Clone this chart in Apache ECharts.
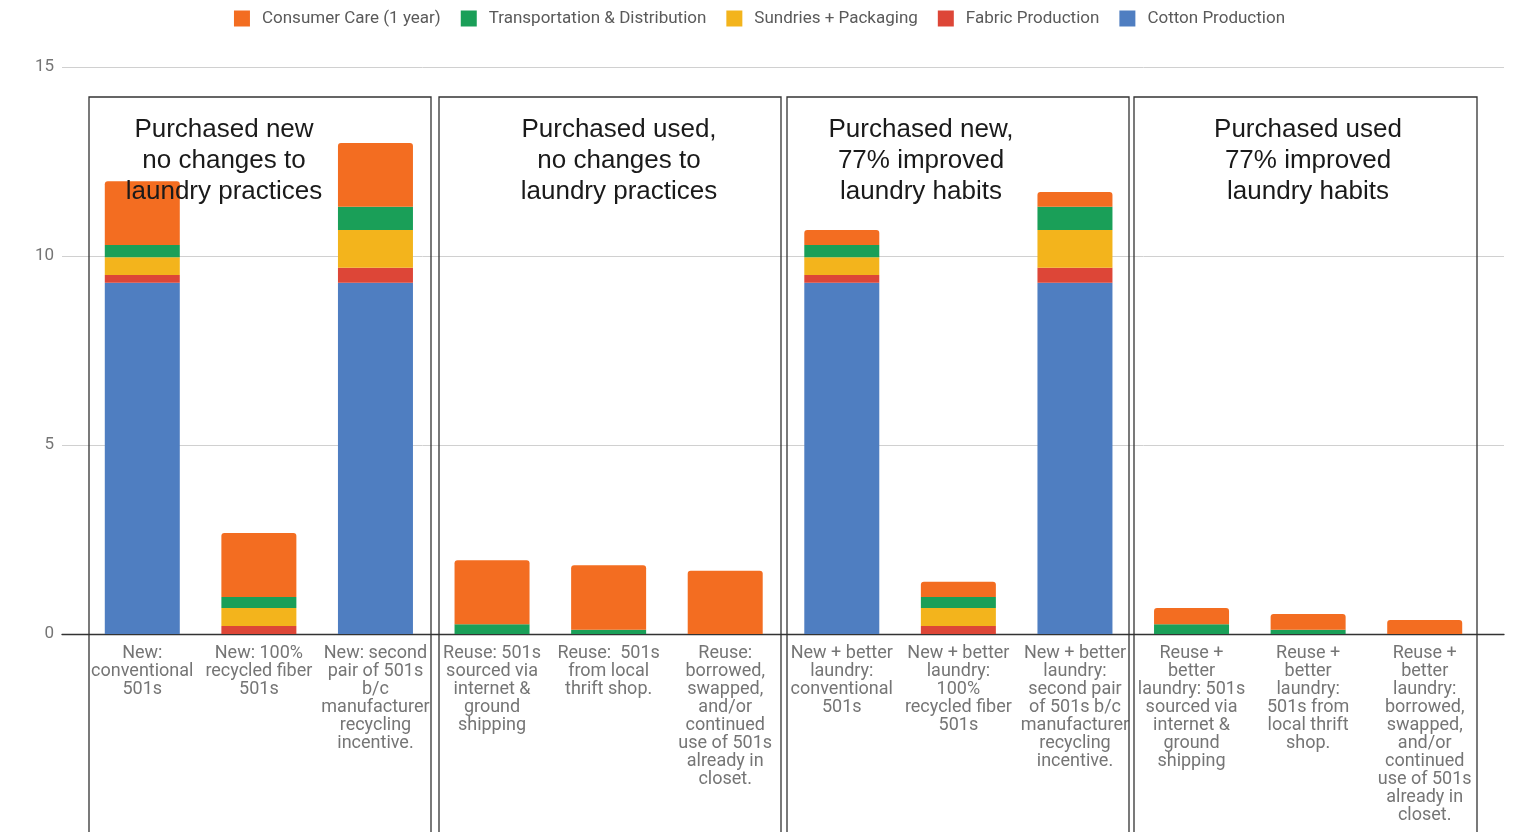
<!DOCTYPE html>
<html>
<head>
<meta charset="utf-8">
<script src="https://cdn.jsdelivr.net/npm/echarts@6/dist/echarts.min.js"></script>
<style>
html,body{margin:0;padding:0;background:#fff;}
#chart{width:1519px;height:832px;}
</style>
</head>
<body>
<div id="chart"></div>
<script>
const categories = [
  "New:\nconventional\n501s",
  "New: 100%\nrecycled fiber\n501s",
  "New: second\npair of 501s\nb/c\nmanufacturer\nrecycling\nincentive.",
  "Reuse: 501s\nsourced via\ninternet &\nground\nshipping",
  "Reuse:  501s\nfrom local\nthrift shop.",
  "Reuse:\nborrowed,\nswapped,\nand/or\ncontinued\nuse of 501s\nalready in\ncloset.",
  "New + better\nlaundry:\nconventional\n501s",
  "New + better\nlaundry:\n100%\nrecycled fiber\n501s",
  "New + better\nlaundry:\nsecond pair\nof 501s b/c\nmanufacturer\nrecycling\nincentive.",
  "Reuse +\nbetter\nlaundry: 501s\nsourced via\ninternet &\nground\nshipping",
  "Reuse +\nbetter\nlaundry:\n501s from\nlocal thrift\nshop.",
  "Reuse +\nbetter\nlaundry:\nborrowed,\nswapped,\nand/or\ncontinued\nuse of 501s\nalready in\ncloset."
];
const cottonProduction   = [9.29, 0,    9.29, 0,    0,    0,    9.29, 0,    9.29, 0,    0,    0];
const fabricProduction   = [0.21, 0.21, 0.40, 0,    0,    0,    0.21, 0.21, 0.40, 0,    0,    0];
const sundriesPackaging  = [0.47, 0.48, 1.00, 0,    0,    0,    0.47, 0.48, 1.00, 0,    0,    0];
const transportation     = [0.32, 0.29, 0.61, 0.26, 0.11, 0,    0.32, 0.29, 0.61, 0.26, 0.11, 0];
const consumerCare       = [1.69, 1.69, 1.69, 1.69, 1.71, 1.67, 0.40, 0.40, 0.39, 0.43, 0.42, 0.37];
const yTicks = [0, 5, 10, 15];
const groupTitles = [
  "Purchased new\nno changes to\nlaundry practices",
  "Purchased used,\nno changes to\nlaundry practices",
  "Purchased new,\n77% improved\nlaundry habits",
  "Purchased used\n77% improved\nlaundry habits"
];

const colors = {
  consumer: '#f36d21',
  transport: '#1a9f58',
  sundries: '#f3b41c',
  fabric: '#dd4637',
  cotton: '#4f7ec1'
};

const chart = echarts.init(document.getElementById('chart'));
const font = 'Roboto, "Noto Sans", sans-serif';

function bar(name, data, color, top) {
  return {
    name: name, type: 'bar', stack: 'total', data: data,
    xAxisIndex: 0, yAxisIndex: 0,
    barWidth: 75,
    itemStyle: { color: color, borderRadius: top ? [3,3,0,0] : 0 },
    emphasis: { disabled: true }
  };
}

const boxes = [[89, 431, 224], [439, 781, 619], [787, 1129, 921], [1134, 1477, 1308]];
const graphics = [];
boxes.forEach((b, i) => {
  graphics.push({
    type: 'rect', z: 10, silent: true,
    shape: { x: b[0], y: 97, width: b[1] - b[0], height: 760 },
    style: { fill: 'none', stroke: '#333', lineWidth: 1.3 }
  });
  graphics.push({
    type: 'text', z: 11, silent: true,
    x: b[2], y: 114,
    style: {
      text: groupTitles[i], fill: '#1a1a1a',
      fontFamily: 'Liberation Sans', fontSize: 26,
      align: 'center', verticalAlign: 'top', lineHeight: 31
    }
  });
});

chart.setOption({
  animation: false,
  color: [colors.cotton, colors.fabric, colors.sundries, colors.transport, colors.consumer],
  legend: {
    top: 5, left: 'center',
    data: ['Consumer Care (1 year)', 'Transportation & Distribution', 'Sundries + Packaging', 'Fabric Production', 'Cotton Production'],
    icon: 'rect', itemWidth: 16, itemHeight: 16, itemGap: 20,
    textStyle: { fontFamily: font, fontSize: 17, color: '#5a5a5a', padding: [0, 0, 0, 7] }
  },
  grid: [
    { left: 84, right: 36, top: 67, bottom: 198 },
    { left: 62, right: 15, top: 67, bottom: 198 }
  ],
  xAxis: [
    {
      type: 'category', gridIndex: 0, data: categories,
      axisLine: { show: false }, axisTick: { show: false },
      axisLabel: { interval: 0, margin: 10, fontFamily: font, fontSize: 18, lineHeight: 18, color: '#757575', align: 'center' }
    },
    {
      type: 'value', gridIndex: 1, min: 0, max: 1,
      axisLine: { show: true, onZero: false, lineStyle: { color: '#333', width: 1.3 } },
      axisTick: { show: false }, axisLabel: { show: false }, splitLine: { show: false }
    }
  ],
  yAxis: [
    { type: 'value', gridIndex: 0, min: 0, max: 15, show: false },
    {
      type: 'value', gridIndex: 1, min: 0, max: 15, interval: 5,
      axisLine: { show: false }, axisTick: { show: false },
      axisLabel: { margin: 8, fontFamily: font, fontSize: 17, color: '#757575',
        formatter: v => yTicks.includes(v) ? String(v) : '' },
      splitLine: { lineStyle: { color: '#d0d0d0', width: 1 } }
    }
  ],
  series: [
    bar('Cotton Production', cottonProduction, colors.cotton, false),
    bar('Fabric Production', fabricProduction, colors.fabric, false),
    bar('Sundries + Packaging', sundriesPackaging, colors.sundries, false),
    bar('Transportation & Distribution', transportation, colors.transport, false),
    bar('Consumer Care (1 year)', consumerCare, colors.consumer, true)
  ],
  graphic: graphics
});
</script>
</body>
</html>
